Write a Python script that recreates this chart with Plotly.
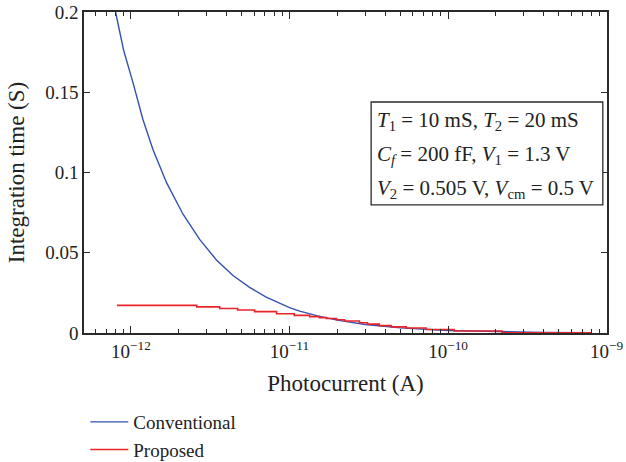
import plotly.graph_objects as go

# Conventional integration (blue)
conv_current = [8.0e-13, 9.0e-13, 1.03e-12, 1.19e-12, 1.38e-12, 1.68e-12, 2.13e-12, 2.72e-12,
                3.46e-12, 4.40e-12, 5.60e-12, 7.13e-12, 1.0e-11, 1.16e-11, 1.5e-11,
                2e-11, 3e-11, 5e-11, 1e-10, 2e-10, 4e-10, 8e-10]
conv_time = [0.200, 0.176, 0.1560, 0.1330, 0.1140, 0.0935, 0.0740, 0.0582,
             0.0455, 0.0358, 0.0284, 0.0224, 0.0158, 0.0136, 0.0107,
             0.0080, 0.0053, 0.0032, 0.0016, 0.0008, 0.0004, 0.0002]

# Proposed integration (red, stepwise)
prop_current = [8.17e-13, 2.60e-12, 3.63e-12, 4.71e-12, 6.02e-12, 8.29e-12, 1.07e-11,
                1.34e-11, 1.54e-11, 1.71e-11, 1.98e-11, 2.22e-11, 2.76e-11, 3.10e-11,
                3.68e-11, 4.38e-11, 5.45e-11, 7.27e-11, 1.09e-10, 2.19e-10, 8.05e-10]
prop_time = [0.0172, 0.0163, 0.0153, 0.0143, 0.0133, 0.0120, 0.0110,
             0.0102, 0.0096, 0.0090, 0.0083, 0.0075, 0.0064, 0.0055,
             0.0046, 0.0038, 0.0031, 0.0022, 0.0012, 0.0002, 0.0002]

y_ticks = [0, 0.05, 0.1, 0.15, 0.2]
y_labels = ["0", "0.05", "0.1", "0.15", "0.2"]
x_major = [1e-12, 1e-11, 1e-10, 1e-9]
x_labels = ["10<sup>\u221212</sup>", "10<sup>\u221211</sup>", "10<sup>\u221210</sup>", "10<sup>\u22129</sup>"]
x_minor = [m * 10.0 ** e for e in range(-13, -9) for m in range(2, 10)]

FONT = "Liberation Serif, Times New Roman, serif"
AX = "#2a2a2a"
TXT = "#222222"

fig = go.Figure()
fig.add_trace(go.Scatter(x=conv_current, y=conv_time, mode="lines", name="Conventional",
                         line=dict(color="#3550B0", width=1.4)))
fig.add_trace(go.Scatter(x=prop_current, y=prop_time, mode="lines", name="Proposed",
                         line=dict(color="#E8242B", width=1.6, shape="hv")))

fig.update_xaxes(type="log", range=[-12.296, -8.998], tickmode="array",
                 tickvals=x_major, ticktext=x_labels,
                 ticks="inside", ticklen=7, tickcolor=AX, tickwidth=1,
                 minor=dict(tickvals=x_minor, ticks="inside", ticklen=4, tickcolor=AX, tickwidth=1),
                 showline=True, linecolor=AX, linewidth=1.5, mirror="ticks",
                 showgrid=False, zeroline=False,
                 title=dict(text="Photocurrent (A)", standoff=14),
                 tickfont=dict(size=19))
fig.update_yaxes(range=[0, 0.2], tickmode="array", tickvals=y_ticks, ticktext=y_labels,
                 ticks="inside", ticklen=6, tickcolor=AX, tickwidth=1,
                 showline=True, linecolor=AX, linewidth=1.5, mirror="ticks",
                 showgrid=False, zeroline=False,
                 title=dict(text="Integration time (S)", standoff=14),
                 tickfont=dict(size=19))

# parameter box
fig.add_shape(type="rect", xref="paper", yref="paper", x0=0.549, x1=0.992, y0=0.399, y1=0.7196,
              line=dict(color=AX, width=1.3), fillcolor="white")
lines = [
    "<i>T</i><sub>1</sub> = 10 mS, <i>T</i><sub>2</sub> = 20 mS",
    "<i>C<sub>f</sub></i> = 200 fF, <i>V</i><sub>1</sub> = 1.3 V",
    "<i>V</i><sub>2</sub> = 0.505 V, <i>V</i><sub>cm</sub> = 0.5 V",
]
line_y = [0.660, 0.555, 0.449]
for t, yy in zip(lines, line_y):
    fig.add_annotation(text=t, xref="paper", yref="paper", x=0.557, y=yy,
                       xanchor="left", yanchor="middle", showarrow=False,
                       font=dict(size=21, family=FONT, color=TXT))

fig.update_layout(
    width=626, height=462,
    margin=dict(l=84, r=19, t=12, b=129, autoexpand=False),
    paper_bgcolor="white", plot_bgcolor="white",
    font=dict(family=FONT, size=19, color=TXT),
    showlegend=True,
    legend=dict(x=0.0025, y=-0.218, xanchor="left", yanchor="top",
                bgcolor="rgba(0,0,0,0)", font=dict(size=19), tracegroupgap=0,
                itemwidth=38),
)

fig.write_html("out.html")
